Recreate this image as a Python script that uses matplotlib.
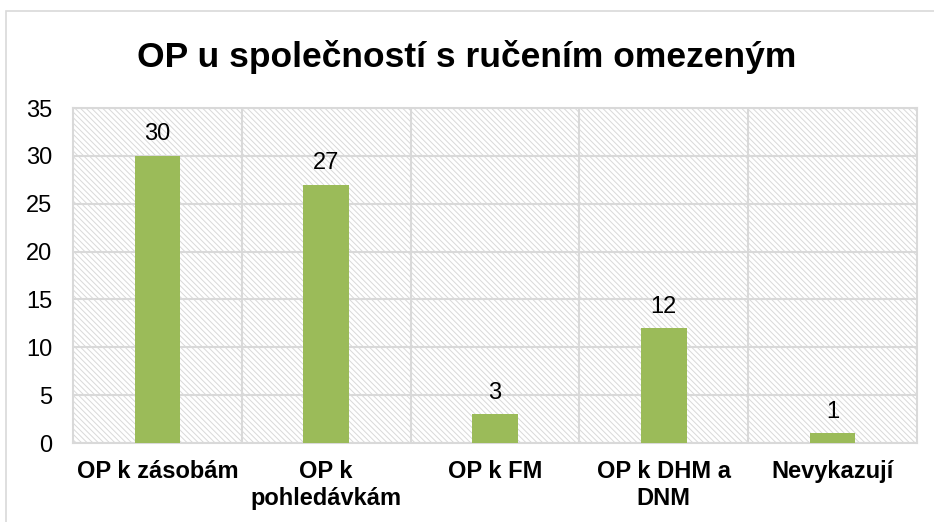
import matplotlib.pyplot as plt
from matplotlib.patches import Rectangle

categories = ['OP k zásobám', 'OP k\npohledávkám', 'OP k FM', 'OP k DHM a\nDNM', 'Nevykazují']
values = [30, 27, 3, 12, 1]

plt.rcParams['font.family'] = ['Liberation Sans', 'DejaVu Sans']
plt.rcParams['hatch.linewidth'] = 0.7

grey = '#d9d9d9'

fig = plt.figure(figsize=(9.34, 5.22), dpi=100)
ax = fig.add_axes([0.0782, 0.1513, 0.9036, 0.6418])

# hatched plot background
bg = Rectangle((0, 0), 1, 1, transform=ax.transAxes, fill=False, hatch='\\' * 6,
               edgecolor=grey, linewidth=0, zorder=0)
ax.add_patch(bg)

x = range(len(categories))
bars = ax.bar(x, values, width=0.27, color='#9bbb59', zorder=3)
for xi, v in zip(x, values):
    ax.text(xi, v + 1.1, str(v), ha='center', va='bottom', fontsize=17, zorder=4)

ax.set_xlim(-0.5, len(categories) - 0.5)
ax.set_ylim(0, 35)
ax.set_yticks(range(0, 36, 5))
ax.set_xticks(list(x))
ax.set_xticklabels(categories, fontsize=17, fontweight='bold', linespacing=1.25)
ax.set_xticks([i + 0.5 for i in range(len(categories) - 1)], minor=True)
ax.tick_params(axis='y', labelsize=17, length=0, pad=15)
ax.tick_params(axis='x', which='both', length=0, pad=12)

ax.grid(axis='y', color=grey, linewidth=1.5, zorder=1)
ax.grid(axis='x', which='minor', color=grey, linewidth=1.5, zorder=1)
ax.set_axisbelow(True)
for s in ax.spines.values():
    s.set_color(grey)
    s.set_linewidth(1.5)

fig.text(0.5, 0.891, 'OP u společností s ručením omezeným', ha='center', va='center',
         fontsize=25.5, fontweight='bold')

# outer chart border
fig.patches.append(Rectangle((6 / 934, -0.1), 1.2, 1 - 11 / 522 + 0.1, transform=fig.transFigure,
                             fill=False, edgecolor=grey, linewidth=1.2))

fig.savefig('out.png', dpi=100)
